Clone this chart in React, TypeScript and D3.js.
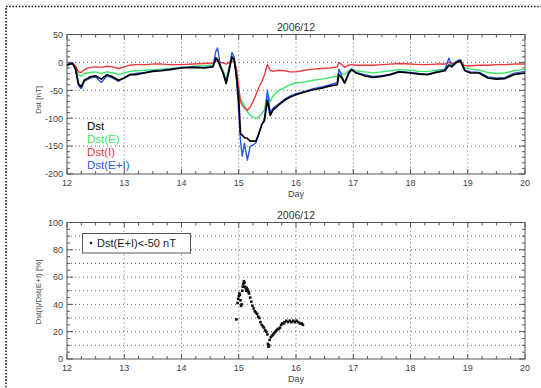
import React from 'react';
import * as d3 from 'd3';

// time in days of 2006/12, values in nT
const days = [
  12.00, 12.05, 12.10, 12.15, 12.20, 12.25, 12.30, 12.40, 12.50, 12.60, 12.70, 12.80,
  12.90, 13.00, 13.10, 13.20, 13.35, 13.50, 13.65, 13.80, 14.00, 14.20, 14.40, 14.55,
  14.60, 14.63, 14.68, 14.73, 14.78, 14.83, 14.88, 14.92, 14.96, 15.00, 15.03, 15.06,
  15.10, 15.15, 15.20, 15.25, 15.30, 15.35, 15.40, 15.45, 15.50, 15.55, 15.60, 15.70,
  15.80, 15.90, 16.00, 16.15, 16.30, 16.45, 16.60, 16.72, 16.75, 16.80, 16.85, 16.92,
  16.97, 17.05, 17.20, 17.35, 17.50, 17.65, 17.80, 18.00, 18.15, 18.30, 18.45, 18.60,
  18.67, 18.72, 18.80, 18.87, 18.95, 19.05, 19.20, 19.35, 19.50, 19.65, 19.80, 20.00,
];
const dst = [
  -5, -3, -2, -12, -38, -44, -32, -26, -24, -30, -22, -26,
  -32, -28, -22, -22, -19, -16, -15, -13, -10, -9, -10, -8,
  8, 5, -8, -20, -38, -15, 10, 5, -25, -65, -128, -130,
  -135, -136, -141, -141, -141, -128, -112, -104, -68, -95, -85, -76,
  -68, -62, -58, -53, -49, -46, -42, -40, -22, -28, -37, -20,
  -13, -19, -24, -27, -25, -22, -17, -19, -21, -22, -18, -15,
  -5, -8, 0, 3, -15, -19, -19, -28, -30, -29, -22, -19,
];
const dstE = [
  -5, -4, -3, -8, -22, -25, -20, -18, -17, -20, -17, -19,
  -22, -19, -16, -15, -14, -13, -12, -11, -9, -7, -6, -5,
  5, 4, -6, -15, -30, -10, 6, 3, -20, -58, -65, -70,
  -78, -88, -95, -98, -101, -98, -92, -85, -55, -70, -60, -50,
  -45, -40, -37, -35, -32, -30, -27, -25, -14, -20, -22, -15,
  -12, -15, -17, -19, -17, -15, -13, -14, -16, -16, -14, -12,
  -4, -6, -1, 1, -10, -12, -14, -18, -20, -19, -15, -12,
];
const dstI = [
  -3, -3, -2, -6, -17, -18, -13, -9, -8, -9, -7, -8,
  -11, -8, -5, -4, -4, -3, -3, -4, -4, -3, -2, -1,
  2, 3, 0, -1, -3, 0, 2, 1, -10, -45, -70, -76,
  -82, -86, -80, -70, -58, -45, -35, -22, -4, -14, -16, -14,
  -15, -17, -17, -14, -12, -11, -10, -8, 0, -4, -9, -5,
  -4, -5, -5, -5, -4, -3, -2, -3, -4, -4, -3, -3,
  0, -2, 0, 1, -6, -6, -5, -5, -4, -4, -3, -3,
];
const dstEI = [
  -6, -2, -1, -14, -42, -47, -34, -28, -26, -36, -24, -28,
  -34, -27, -22, -20, -18, -15, -14, -12, -9, -8, -9, -7,
  20, 26, -6, -18, -36, -12, 18, 10, -30, -90, -140, -168,
  -145, -175, -150, -148, -144, -128, -112, -100, -50, -90, -82, -74,
  -66, -60, -56, -52, -47, -44, -40, -36, -12, -25, -36, -18,
  -12, -18, -22, -25, -24, -21, -16, -18, -20, -21, -17, -13,
  8, -6, 2, 5, -14, -17, -18, -26, -28, -27, -20, -16,
];

// Dst(I)/Dst(E+I) [%] where Dst(E+I) < -50 nT
const ratioDays = [
  14.96, 14.98, 14.99, 15.00, 15.01, 15.02, 15.03, 15.04, 15.05, 15.06, 15.07,
  15.08, 15.09, 15.10, 15.11, 15.12, 15.13, 15.14, 15.15, 15.16, 15.17, 15.18,
  15.20, 15.22, 15.24, 15.26, 15.28, 15.30, 15.32, 15.34, 15.36, 15.38, 15.40,
  15.42, 15.44, 15.46, 15.48, 15.50, 15.51, 15.52, 15.53, 15.54, 15.56, 15.58,
  15.60, 15.62, 15.64, 15.66, 15.68, 15.70, 15.72, 15.74, 15.76, 15.78, 15.80,
  15.83, 15.86, 15.89, 15.92, 15.95, 15.98, 16.01, 16.04, 16.07, 16.10, 16.12,
];
const ratioPct = [
  29, 41, 44, 46, 48, 47, 43, 39, 40, 50, 53,
  55, 57, 56, 53, 52, 50, 52, 51, 50, 49, 48,
  45, 42, 39, 37, 35, 34, 33, 31, 30, 27, 25,
  24, 23, 21, 20, 18, 11, 9, 10, 14, 16, 17,
  18, 19, 20, 21, 22, 22, 23, 25, 26, 26, 27,
  28, 27, 28, 27, 28, 27, 28, 27, 26, 26, 25,
];

const dayTicks = [12, 13, 14, 15, 16, 17, 18, 19, 20];
const dstTicks = [50, 0, -50, -100, -150, -200];
const pctTicks = [100, 80, 60, 40, 20, 0];

const seriesInfo = [
  { name: 'Dst', color: '#000000', values: dst },
  { name: 'Dst(E)', color: '#3ee66a', values: dstE },
  { name: 'Dst(I)', color: '#e83a3a', values: dstI },
  { name: 'Dst(E+I)', color: '#2a58e8', values: dstEI },
];

const font = '"Liberation Sans", Arial, sans-serif';
const left = 67;
const right = 525;

const x = d3.scaleLinear().domain([12, 20]).range([left, right]);

function Panel({ y, top, bottom, yMajor, yGrid, yMinor, ylabel, labelY }) {
  const xMinor = d3.range(12, 20.001, 0.25);
  const grid = '#666';
  return (
    <g>
      {/* grid */}
      {dayTicks.slice(1, -1).map(d => (
        <line key={'gx' + d} x1={x(d)} x2={x(d)} y1={top} y2={bottom}
          stroke={grid} strokeDasharray="1 3" strokeWidth={1} />
      ))}
      {yGrid.map(v => (
        <line key={'gy' + v} x1={left} x2={right} y1={y(v)} y2={y(v)}
          stroke={grid} strokeDasharray="1 3" strokeWidth={1} />
      ))}
      {/* ticks, inward on all sides */}
      {xMinor.map(d => {
        const major = Math.abs(d - Math.round(d)) < 1e-6;
        const len = major ? 5 : 3;
        return (
          <g key={'tx' + d}>
            <line x1={x(d)} x2={x(d)} y1={bottom} y2={bottom - len} stroke="#555" />
            <line x1={x(d)} x2={x(d)} y1={top} y2={top + len} stroke="#555" />
          </g>
        );
      })}
      {yMinor.map(v => {
        const len = yMajor.includes(v) ? 6 : 3;
        return (
          <g key={'ty' + v}>
            <line x1={left} x2={left + len} y1={y(v)} y2={y(v)} stroke="#555" />
            <line x1={right} x2={right - len} y1={y(v)} y2={y(v)} stroke="#555" />
          </g>
        );
      })}
      <rect x={left} y={top} width={right - left} height={bottom - top}
        fill="none" stroke="#555" strokeWidth={1} />
      {/* labels */}
      {dayTicks.map(d => (
        <text key={'lx' + d} x={x(d)} y={bottom + 12} textAnchor="middle"
          fontSize={9} fill="#444" fontFamily={font}>{d}</text>
      ))}
      {yMajor.map(v => (
        <text key={'ly' + v} x={left - 4} y={y(v) + 3.3} textAnchor="end"
          fontSize={9} fill="#444" fontFamily={font}>{v}</text>
      ))}
      <text x={(left + right) / 2} y={bottom + 22.5} textAnchor="middle"
        fontSize={9} fill="#444" fontFamily={font}>Day</text>
      <text x={(left + right) / 2} y={top - 4} textAnchor="middle"
        fontSize={10.5} fill="#333" fontFamily={font}>2006/12</text>
      <text transform={`translate(41,${labelY}) rotate(-90)`} textAnchor="middle"
        fontSize={8} fill="#444" fontFamily={font}>{ylabel}</text>
    </g>
  );
}

export default function App() {
  const top1 = 34.5, bottom1 = 174;
  const top2 = 222.5, bottom2 = 359;
  const y1 = d3.scaleLinear().domain([-200, 50]).range([bottom1, top1]);
  const y2 = d3.scaleLinear().domain([0, 100]).range([bottom2, top2]);

  const line = d3.line<number>()
    .x((_, i) => x(days[i]))
    .y(v => y1(v));

  // draw order: green, red, blue, black
  const drawOrder = [1, 2, 3, 0];

  return (
    <svg width={541} height={388}
      style={{ position: 'absolute', left: 0, top: 0, background: '#fff' }}>
      <rect x={6} y={6.5} width={560} height={400} fill="none" stroke="#222"
        strokeWidth={1.6} strokeDasharray="1.6 1.6" />

      <Panel y={y1} top={top1} bottom={bottom1}
        yMajor={dstTicks} yGrid={[0, -50, -100, -150]}
        yMinor={d3.range(-200, 50.1, 10)} ylabel="Dst [nT]" labelY={100} />

      <g>
        {drawOrder.map(i => (
          <path key={seriesInfo[i].name} d={line(seriesInfo[i].values) || ''}
            fill="none" stroke={seriesInfo[i].color}
            strokeWidth={i === 0 ? 1.7 : 1.4} strokeLinejoin="round" />
        ))}
      </g>

      {seriesInfo.map((s, i) => (
        <text key={'leg' + s.name} x={87} y={130 + i * 12.9} fontSize={11.5}
          fill={s.color} fontFamily={font}>{s.name}</text>
      ))}

      <Panel y={y2} top={top2} bottom={bottom2}
        yMajor={pctTicks} yGrid={d3.range(10, 100, 10)}
        yMinor={d3.range(0, 100.1, 5)} ylabel="Dst(I)/Dst(E+I) [%]" labelY={292} />

      <g>
        {ratioDays.map((d, i) => (
          <rect key={'pt' + i} x={x(d) - 1.3} y={y2(ratioPct[i]) - 1.3}
            width={2.6} height={2.6} fill="#111" />
        ))}
      </g>

      <g>
        <rect x={82.5} y={233.5} width={108} height={19.5} fill="#fff"
          stroke="#555" strokeWidth={1} />
        <circle cx={91} cy={243} r={1.3} fill="#222" />
        <text x={97} y={247.2} fontSize={11} fill="#222" fontFamily={font}>Dst(E+I)&lt;-50 nT</text>
      </g>
    </svg>
  );
}
